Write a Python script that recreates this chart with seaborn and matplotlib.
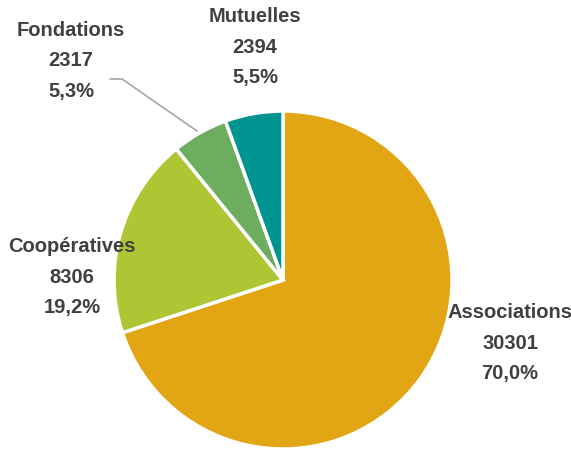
import matplotlib.pyplot as plt
import seaborn as sns

categories = ["Associations", "Coopératives", "Fondations", "Mutuelles"]
counts = [30301, 8306, 2317, 2394]
shares = ["70,0%", "19,2%", "5,3%", "5,5%"]
colors = ["#E2A614", "#AFC634", "#6DAE5E", "#009490"]

sns.set_theme(style="white")
plt.rcParams["font.family"] = ["Liberation Sans", "DejaVu Sans"]

W, H = 571, 452
fig = plt.figure(figsize=(W / 100, H / 100), dpi=100)
ax = fig.add_axes([0, 0, 1, 1])

ax.pie(counts, colors=colors, startangle=90, counterclock=False,
       center=(283, H - 281), radius=169, frame=True,
       wedgeprops=dict(edgecolor="white", linewidth=2.5))
ax.set_xlim(0, W)
ax.set_ylim(0, H)
ax.axis("off")

# label blocks: centre x and top line y (pixels from top)
label_pos = {
    "Associations": (510, 313),
    "Coopératives": (72, 247),
    "Fondations": (71, 30),
    "Mutuelles": (255, 17),
}
for cat, n, s in zip(categories, counts, shares):
    x, y = label_pos[cat]
    for i, line in enumerate([cat, str(n), s]):
        ax.text(x, H - (y + i * 30.5), line, ha="center", va="center",
                fontsize=14.5, fontweight="bold", color="#404040")

# leader line for Fondations
ax.plot([110, 122, 197], [H - 80, H - 80, H - 132], color="#A6A6A6", lw=1.2)

fig.savefig("out.png", dpi=100)
